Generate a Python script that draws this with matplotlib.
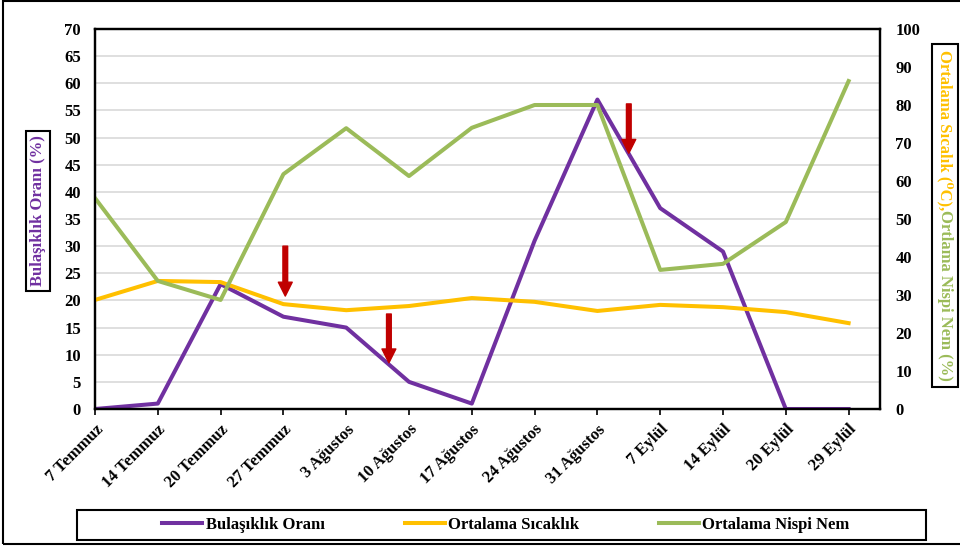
import matplotlib
matplotlib.use("Agg")

import matplotlib.pyplot as plt
import numpy as np
from matplotlib.patches import Rectangle

cats = [
    "7 Temmuz", "14 Temmuz", "20 Temmuz", "27 Temmuz", "3 Ağustos",
    "10 Ağustos", "17 Ağustos", "24 Ağustos", "31 Ağustos", "7 Eylül",
    "14 Eylül", "20 Eylül", "29 Eylül",
]
bul = [0, 1, 23, 17, 15, 5, 1, 31, 57, 37, 29, 0, 0]
sic = [28.7, 33.7, 33.4, 27.6, 26.0, 27.1, 29.2, 28.2, 25.8, 27.4, 26.8, 25.5, 22.6]
nem = [55.5, 33.7, 28.7, 61.8, 73.9, 61.3, 74.0, 80.0, 80.0, 36.6, 38.2, 49.2, 86.3]

# red arrows, left-axis units: (x index, tail, tip)
arr_x = [3.03, 4.68, 8.5]
arr_top = [30.0, 17.5, 56.2]
arr_tip = [20.8, 8.5, 47.1]

pur = "#7030A0"
yel = "#FFC000"
grn = "#9BBB59"
red = "#C00000"

plt.rcParams["font.family"] = ["Liberation Serif", "DejaVu Serif"]
plt.rcParams["font.weight"] = "bold"

W, H = 960, 548
fs = 12


def fx(p):
    return p / W


def fy(p):
    return 1 - p / H


fig = plt.figure(figsize=(9.6, 5.48), dpi=100)

ax = fig.add_axes([fx(95), fy(409), fx(880) - fx(95), fy(29) - fy(409)])
ax2 = ax.twinx()

x = np.arange(len(cats))

ax.plot(x, bul, color=pur, lw=2.9, solid_joinstyle="round", label="Bulaşıklık Oranı")
l2, = ax2.plot(x, sic, color=yel, lw=2.9, solid_joinstyle="round", label="Ortalama Sıcaklık")
l3, = ax2.plot(x, nem, color=grn, lw=2.9, solid_joinstyle="round", label="Ortalama Nispi Nem")

ax.set_xlim(0, 12.5)
ax.set_ylim(0, 70)
ax2.set_ylim(0, 100)
ax.set_yticks(range(0, 75, 5))
ax2.set_yticks(range(0, 110, 10))
ax.set_xticks(x)
ax.set_xticklabels(cats, rotation=45, ha="right", va="top", rotation_mode="anchor", fontsize=fs)

ax.grid(axis="y", color="#D9D9D9", lw=1.2)
ax.set_axisbelow(True)

ax.tick_params(axis="y", length=0, pad=10, labelsize=fs)
ax2.tick_params(axis="y", length=0, pad=11, labelsize=fs)
ax.tick_params(axis="x", length=4, width=1.2, direction="out", pad=5)

for a in [ax, ax2]:
    for s in a.spines.values():
        s.set_linewidth(1.6)
        s.set_color("black")

for xa, t0, t1 in zip(arr_x, arr_top, arr_tip):
    ax2.annotate(
        "", xy=(xa, t1), xytext=(xa, t0),
        xycoords=ax.transData, textcoords=ax.transData,
        arrowprops=dict(arrowstyle="simple,head_length=10,head_width=10,tail_width=3.4",
                        color=red, shrinkA=0, shrinkB=0, mutation_scale=1),
    )

# outer frame
fig.patches.append(Rectangle((fx(3), fy(544)), 1.2, fy(1) - fy(544), transform=fig.transFigure,
                             fill=False, ec="black", lw=1.5))

# left label
fig.text(fx(38), fy(211), "Bulaşıklık Oranı (%)", rotation=90, ha="center", va="center",
         color=pur, fontsize=fs, fontweight="bold",
         bbox=dict(boxstyle="square,pad=0.25", fc="white", ec="black", lw=1.5))

# right label, two colours
fig.patches.append(Rectangle((fx(932), fy(387)), fx(958) - fx(932), fy(44) - fy(387),
                             transform=fig.transFigure, fill=False, ec="black", lw=1.5))
t1 = fig.text(fx(945), fy(50), "Ortalama Sıcalık (⁰C),", rotation=270, ha="center", va="top",
              color=yel, fontsize=fs, fontweight="bold")
fig.canvas.draw()
e = t1.get_window_extent()
fig.text(fx(945), e.y0 / fig.dpi / fig.get_figheight(), "Ortlama Nispi Nem (%)", rotation=270,
         ha="center", va="top", color=grn, fontsize=fs, fontweight="bold")

# legend
fig.patches.append(Rectangle((fx(77), fy(540)), fx(926) - fx(77), fy(510) - fy(540),
                             transform=fig.transFigure, fill=False, ec="black", lw=1.5))
hs = [ax.get_lines()[0], l2, l3]
fig.legend(hs, [h.get_label() for h in hs], loc="center", bbox_to_anchor=(fx(506), fy(525)),
           ncol=3, frameon=False, prop=dict(size=fs, weight="bold"),
           handlelength=2.4, handletextpad=0.2, columnspacing=4.8)

fig.savefig("out.png", dpi=100)
